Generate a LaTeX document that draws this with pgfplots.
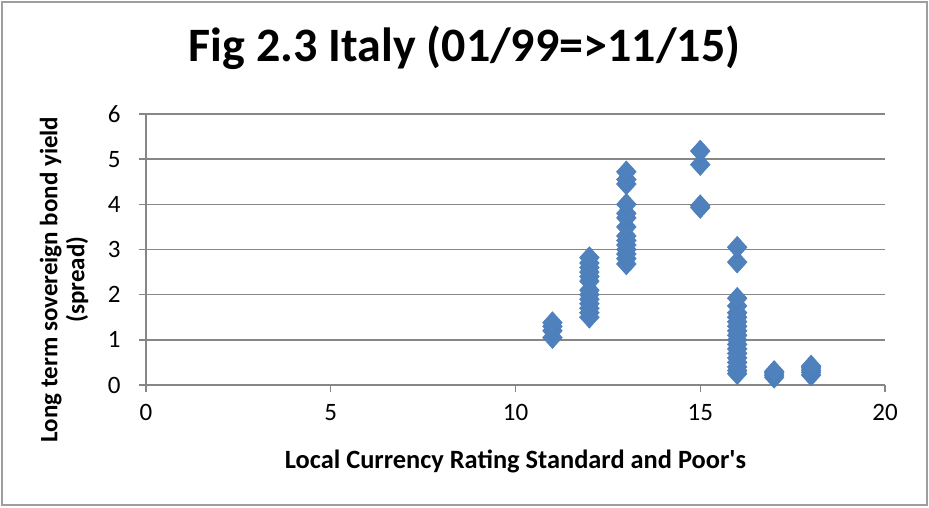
\documentclass[border=0pt]{standalone}
\usepackage{pgfplots}
\pgfplotsset{compat=1.18}
\usepackage{fontspec}
\setmainfont{Carlito}
\definecolor{mk}{HTML}{4F81BD}
\definecolor{mkd}{HTML}{4A7EBB}
\definecolor{gridc}{HTML}{868686}
\begin{document}
\begin{tikzpicture}[x=1pt,y=1pt]
\useasboundingbox (-146,-122) rectangle (783,385);
\draw[gridc!80,line width=1.4pt] (-144,-120) rectangle (781,383);
\begin{axis}[
  at={(0,0)}, anchor=south west,
  scale only axis, width=739pt, height=271pt,
  xmin=0, xmax=20, ymin=0, ymax=6,
  xtick={0,5,10,15,20}, ytick={0,1,2,3,4,5,6},
  ymajorgrids, grid style={gridc, line width=1.4pt},
  axis line style={gridc, line width=1.4pt},
  axis x line*=bottom, axis y line*=left,
  x axis line style={-}, y axis line style={-},
  tick style={gridc, line width=1.4pt},
  xtick align=outside, ytick align=outside,
  major tick length=7pt,
  /pgf/number format/assume math mode=true,
  tick label style={font=\fontsize{25}{25}\selectfont, black},
  xticklabel style={yshift=-9pt},
  yticklabel style={xshift=-15pt},
  title={Fig 2.3 Italy (01/99=>11/15)},
  title style={font=\fontsize{48}{48}\selectfont\bfseries, at={(axis description cs:0.5,1)}, anchor=base, yshift=47pt, xshift=-51pt},
  xlabel={Local Currency Rating Standard and Poor\textquotesingle s},
  xlabel style={font=\fontsize{26.4}{26.4}\selectfont\bfseries, at={(axis description cs:0.5,0)}, anchor=base, yshift=-83pt},
  ylabel={Long term sovereign bond yield\\(spread)},
  ylabel style={font=\fontsize{25}{27}\selectfont\bfseries, align=center, at={(axis description cs:0,0.5)}, anchor=center, rotate=0, yshift=82pt, xshift=-30pt},
  clip=false,
]
\addplot[only marks, mark=diamond*, mark size=11pt, mark options={fill=mk, draw=mkd, xscale=1.2}] coordinates {
(11,1.05) (11,1.2) (11,1.3) (11,1.38)
(12,1.5) (12,1.6) (12,1.7) (12,1.8) (12,1.9) (12,2.0) (12,2.1) (12,2.3) (12,2.4) (12,2.5) (12,2.6) (12,2.7) (12,2.82)
(13,2.68) (13,2.8) (13,2.9) (13,3.0) (13,3.1) (13,3.2) (13,3.3) (13,3.5) (13,3.7) (13,3.8) (13,4.0) (13,4.45) (13,4.55) (13,4.72)
(15,3.93) (15,3.97) (15,4.88) (15,5.18)
(16,0.25) (16,0.32) (16,0.4) (16,0.5) (16,0.6) (16,0.7) (16,0.8) (16,0.9) (16,1.0) (16,1.1) (16,1.2) (16,1.3) (16,1.4) (16,1.5) (16,1.6) (16,1.75) (16,1.92) (16,2.72) (16,3.05)
(17,0.17) (17,0.22) (17,0.27) (17,0.3)
(18,0.22) (18,0.28) (18,0.33) (18,0.38) (18,0.42)
};
\end{axis}
\end{tikzpicture}
\end{document}
